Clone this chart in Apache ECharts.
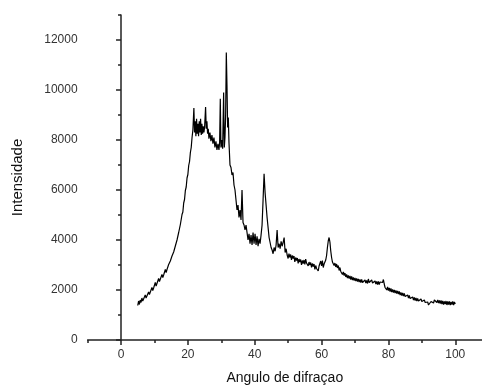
<!DOCTYPE html>
<html>
<head>
<meta charset="utf-8">
<script src="https://cdn.jsdelivr.net/npm/echarts@6/dist/echarts.min.js"></script>
<style>
html, body { margin: 0; padding: 0; background: #fff; }
#main { width: 482px; height: 385px; }
</style>
</head>
<body>
<div id="main"></div>
<script>
// difratograma - valores [angulo, intensidade]
var rampa = [
    [5.0,1380],[5.25,1560],[5.5,1420],[5.75,1600],[6.0,1500],[6.25,1680],[6.5,1560],[6.75,1640],
    [7.0,1600],[7.25,1800],[7.5,1680],[7.75,1760],[8.0,1720],[8.25,1920],[8.5,1820],[8.75,1900],
    [9.0,1880],[9.25,2100],[9.5,1980],[9.75,2080],[10.0,2060],[10.25,2300],[10.5,2160],[10.75,2260],
    [11.0,2240],[11.25,2460],[11.5,2340],[11.75,2420],[12.0,2420],[12.25,2620],[12.5,2500],[12.75,2600],
    [13.0,2600],[13.25,2820],[13.5,2700],[13.75,2820],[14.0,2860],[14.25,3020],[14.5,2980],[14.75,3160],
    [15.0,3140],[15.25,3360],[15.5,3320],[15.75,3520],[16.0,3540],[16.25,3760],[16.5,3740],[16.75,4000],
    [17.0,4020],[17.25,4300],[17.5,4340],[17.75,4620],[18.0,4700],[18.25,5020],[18.5,5120],[18.75,5480],
    [19.0,5620],[19.25,5980],[19.5,6120],[19.75,6480],[20.0,6620],[20.25,6980],[20.5,7140],[20.75,7500],
    [21.0,7700],[21.25,8100],[21.5,8400]
];
var picos = [
    [21.8,9280],[22.0,8300],[22.2,8750],[22.4,8150],[22.6,8850],[22.8,8250],[23.0,8650],[23.2,8150],
    [23.4,8750],[23.6,8300],[23.8,8850],[24.0,8200],[24.2,8650],[24.4,8250],[24.6,8550],[24.8,8300],
    [25.0,8500],[25.3,9320],[25.5,8450],[25.7,8750],[25.9,8250],[26.1,8450],[26.3,8050],[26.6,8300],
    [26.9,7950],[27.2,8200],[27.5,7850],[27.8,8100],[28.1,7700],[28.4,7950],[28.7,7600],[29.0,7850],
    [29.3,7600],[29.5,7900],[29.7,9650],[29.9,7700],[30.1,8000],[30.4,7650],[30.7,9900],[30.9,7700],
    [31.1,8100],[31.3,9000],[31.5,11500],[31.7,10200],[31.9,8500],[32.1,8900],[32.3,7900],[32.6,7000],
    [32.9,6900],[33.2,6600],[33.5,6700],[33.8,6200],[34.1,6000],[34.4,5600],[34.7,5200],[35.0,5400],
    [35.3,4900],[35.6,5200],[35.9,4800],[36.2,6000],[36.5,4700],[36.8,4600],[37.1,4400],[37.4,4600],
    [37.7,4300],[38.0,4000],[38.3,4250],[38.6,3850],[38.9,4200],[39.2,3800],[39.5,4300],[39.8,3850],
    [40.1,4250],[40.4,3800],[40.7,4150],[41.0,3750],[41.3,4050],[41.6,3850],[41.9,4200],[42.2,4600],
    [42.5,5600],[42.8,6650],[43.1,5900],[43.4,5400],[43.7,4900],[44.0,4500],[44.3,4100],[44.6,3900],
    [44.9,3700],[45.2,3600],[45.5,3450],[45.8,3700],[46.1,3550],[46.4,3800],[46.7,4400],[47.0,3700],
    [47.3,3850],[47.6,3650],[47.9,3950],[48.2,3750],[48.5,3900],[48.8,4100],[49.1,3500],[49.4,3650],
    [49.7,3400]
];
var meio = [
    [50.0,3260],[50.25,3460],[50.5,3300],[50.75,3420],[51.0,3200],[51.25,3380],[51.5,3260],[51.75,3360],
    [52.0,3120],[52.25,3300],[52.5,3180],[52.75,3280],[53.0,3060],[53.25,3240],[53.5,3120],[53.75,3220],
    [54.0,3000],[54.25,3180],[54.5,3060],[54.75,3200],[55.0,3020],[55.25,3240],[55.5,3080],[55.75,3160],
    [56.0,2960],[56.25,3120],[56.5,3000],[56.75,3100],[57.0,2900],[57.25,3060],[57.5,2940],[57.75,3040],
    [58.0,2820],[58.25,2980],[58.5,2860],[58.75,2940],[59.0,2760],[59.25,2960],[59.5,2880],[59.75,3160],
    [60.0,2960],[60.25,3180],[60.5,2900],[60.75,3040],[61.0,2980],[61.25,3200],[61.5,3380],[61.75,3700],
    [62.0,3960],[62.25,4100],[62.5,3920],[62.75,3560],[63.0,3300],[63.25,3120],[63.5,3180],[63.75,2980],
    [64.0,3080],[64.25,2920],[64.5,3040],[64.75,2880],[65.0,2980],[65.25,2780],[65.5,2900],[65.75,2740],
    [66.0,2820],[66.25,2620],[66.5,2720],[66.75,2580],[67.0,2680],[67.25,2520],[67.5,2620],[67.75,2480],
    [68.0,2580],[68.25,2460],[68.5,2560],[68.75,2420],[69.0,2540],[69.25,2400],[69.5,2500],[69.75,2380],
    [70.0,2480],[70.25,2360],[70.5,2460],[70.75,2340],[71.0,2440],[71.25,2320],[71.5,2420],[71.75,2300],
    [72.0,2420],[72.25,2300],[72.5,2380],[72.75,2280],[73.0,2400],[73.25,2280],[73.5,2380],[73.75,2260],
    [74.0,2440],[74.25,2300],[74.5,2380],[74.75,2260],[75.0,2400],[75.25,2280],[75.5,2360],[75.75,2240],
    [76.0,2360],[76.25,2240],[76.5,2340],[76.75,2220],[77.0,2340],[77.25,2220],[77.5,2320],[77.75,2240],
    [78.0,2340],[78.25,2300],[78.5,2420]
];
var cauda = [
    [78.75,2240],[79.0,2100],[79.25,2160],[79.5,2000],[79.75,2120],[80.0,1980],[80.25,2080],[80.5,1940],
    [80.75,2060],[81.0,1920],[81.25,2020],[81.5,1900],[81.75,2000],[82.0,1880],[82.25,1980],[82.5,1860],
    [82.75,1960],[83.0,1840],[83.25,1940],[83.5,1800],[83.75,1900],[84.0,1780],[84.25,1880],[84.5,1760],
    [84.75,1860],[85.0,1740],[85.25,1820],[85.5,1700],[85.75,1800],[86.0,1680],[86.25,1780],[86.5,1660],
    [86.75,1740],[87.0,1620],[87.25,1720],[87.5,1600],[87.75,1700],[88.0,1580],[88.25,1680],[88.5,1560],
    [88.75,1660],[89.0,1560],[89.25,1640],[89.5,1540],[89.75,1640],[90.0,1540],[90.25,1620],[90.5,1520],
    [90.75,1600],[91.0,1500],[91.25,1560],[91.5,1440],[91.75,1520],[92.0,1400],[92.25,1480],[92.5,1420],
    [92.75,1540],[93.0,1460],[93.25,1560],[93.5,1480],[93.75,1600],[94.0,1520],[94.25,1620],[94.5,1500],
    [94.75,1600],[95.0,1480],[95.25,1580],[95.5,1460],[95.75,1580],[96.0,1440],[96.25,1560],[96.5,1420],
    [96.75,1540],[97.0,1440],[97.25,1560],[97.5,1400],[97.75,1540],[98.0,1420],[98.25,1540],[98.5,1400],
    [98.75,1520],[99.0,1420],[99.25,1540],[99.5,1400],[99.75,1520],[100.0,1440]
];

var xMajor = [0, 20, 40, 60, 80, 100];
var xMinor = [-10, 10, 30, 50, 70, 90];
var yMajor = [0, 2000, 4000, 6000, 8000, 10000, 12000];
var yMinor = [1000, 3000, 5000, 7000, 9000, 11000, 13000];

var dados = rampa.concat(picos, meio, cauda);

var dom = document.getElementById("main");
var myChart = echarts.init(dom);

var corEixo = '#222';
var corTexto = '#333';

option = {
    animation: false,
    grid: {
        left: 87.6,
        right: 0,
        top: 15,
        bottom: 45,
        outerBoundsMode: 'none'
    },
    xAxis: [
        {
            type: 'value',
            min: -10,
            max: 108,
            position: 'bottom',
            name: 'Angulo de difraçao',
            nameLocation: 'middle',
            nameGap: 31,
            nameTextStyle: { fontFamily: 'Liberation Sans', fontSize: 14, color: '#111' },
            splitLine: { show: false },
            axisLine: { lineStyle: { color: corEixo, width: 1.5 } },
            axisTick: { inside: false, length: 5, customValues: xMajor, lineStyle: { color: corEixo, width: 1.5 } },
            axisLabel: { customValues: xMajor, margin: 9, fontFamily: 'Liberation Sans', fontSize: 12, color: corTexto,
                formatter: function (v) { return String(v); } }
        },
        {
            type: 'value',
            min: -10,
            max: 108,
            position: 'bottom',
            splitLine: { show: false },
            axisLine: { show: false },
            axisTick: { inside: false, length: 3, customValues: xMinor, lineStyle: { color: corEixo, width: 1.5 } },
            axisLabel: { show: false }
        }
    ],
    yAxis: [
        {
            type: 'value',
            min: 0,
            max: 13000,
            interval: 1000,
            position: 'left',
            name: 'Intensidade',
            nameLocation: 'middle',
            nameGap: 62,
            nameTextStyle: { fontFamily: 'Liberation Sans', fontSize: 15, color: '#111' },
            splitLine: { show: false },
            axisLine: { lineStyle: { color: corEixo, width: 1.5 } },
            axisTick: { inside: false, length: 5, customValues: yMajor, lineStyle: { color: corEixo, width: 1.5 } },
            axisLabel: { customValues: yMajor, margin: 10, fontFamily: 'Liberation Sans', fontSize: 12, color: corTexto,
                formatter: function (v) { return String(v); } }
        },
        {
            type: 'value',
            min: 0,
            max: 13000,
            interval: 1000,
            position: 'left',
            splitLine: { show: false },
            axisLine: { show: false },
            axisTick: { inside: false, length: 3, customValues: yMinor, lineStyle: { color: corEixo, width: 1.5 } },
            axisLabel: { show: false }
        }
    ],
    series: [
        {
            type: 'line',
            data: dados,
            showSymbol: false,
            symbol: 'none',
            lineStyle: { color: '#000', width: 1.2 }
        }
    ]
};
if (option && typeof option === "object") {
    myChart.setOption(option, true);
}
</script>
</body>
</html>
